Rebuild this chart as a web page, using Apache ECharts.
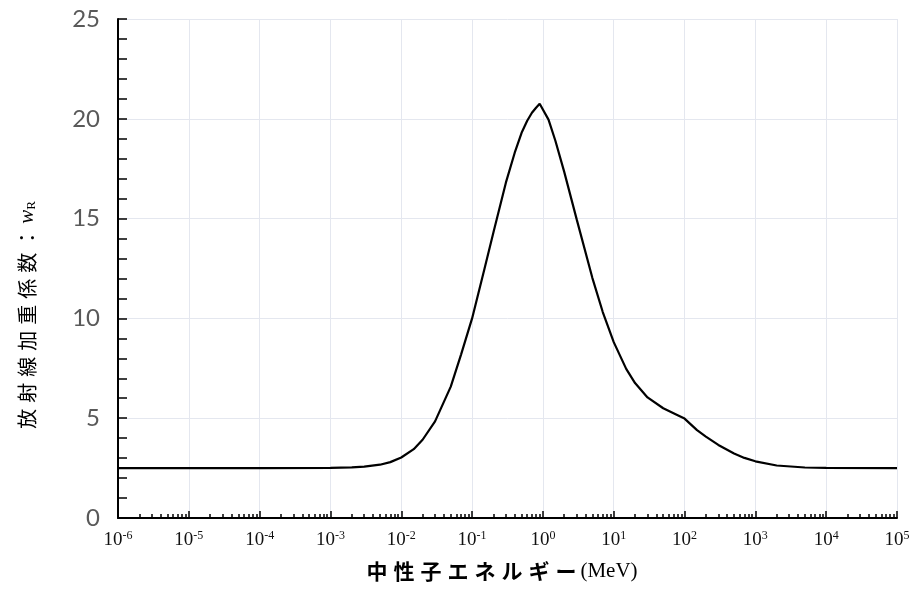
<!DOCTYPE html>
<html>
<head>
<meta charset="utf-8">
<script src="https://cdn.jsdelivr.net/npm/echarts@6/dist/echarts.min.js"></script>
<style>
html,body{margin:0;padding:0;background:#fff;}
#chart{width:912px;height:589px;}
</style>
</head>
<body>
<div id="chart"></div>
<script>
// Neutron energy (MeV) and radiation weighting factor
var energies = [1e-6, 1e-5, 1e-4, 1e-3, 2e-3, 3e-3, 5e-3, 7e-3, 1e-2, 1.5e-2, 2e-2, 3e-2, 5e-2, 7e-2,
  0.1, 0.15, 0.2, 0.3, 0.4, 0.5, 0.6, 0.7, 0.8, 0.9, 1.2, 1.5, 2, 3, 5, 7, 10, 15, 20, 30, 50, 80,
  100, 150, 200, 300, 500, 700, 1000, 2000, 5000, 1e4, 1e5];
var weights = [2.5, 2.5, 2.5, 2.51, 2.54, 2.57, 2.67, 2.80, 3.03, 3.45, 3.92, 4.84, 6.58, 8.2,
  10.0, 12.5, 14.3, 16.8, 18.3, 19.3, 19.9, 20.3, 20.55, 20.75, 19.96, 18.9, 17.34, 14.96, 12.02, 10.32, 8.81, 7.47, 6.76, 6.04, 5.50, 5.15,
  4.98, 4.40, 4.08, 3.66, 3.23, 3.01, 2.84, 2.63, 2.53, 2.51, 2.5];
var yTicks = [0, 5, 10, 15, 20, 25];
var xTitle = '中性子エネルギー';
var xUnit = '(MeV)';
var yTitle = '放射線加重係数';

var seriesData = energies.map(function (e, i) { return [e, weights[i]]; });

function spaced(text, style) {
  return text.split('').map(function (c) { return '{' + style + '|' + c + '}'; }).join('');
}

var chart = echarts.init(document.getElementById('chart'), null, {renderer: 'canvas'});
chart.setOption({
  animation: false,
  backgroundColor: '#ffffff',
  grid: {left: 118, right: 15, top: 19, bottom: 71, outerBoundsMode: 'none', containLabel: false},
  xAxis: {
    type: 'log',
    logBase: 10,
    min: 1e-6,
    max: 1e5,
    interval: 1,
    name: spaced(xTitle, 'j') + '{u|' + xUnit + '}',
    nameLocation: 'middle',
    nameGap: 43,
    nameTextStyle: {
      padding: [0, 14, 0, 0],
      rich: {
        j: {fontFamily: 'Noto Sans CJK JP', fontWeight: 'bold', fontSize: 21, color: '#000', padding: [0, 3, 0, 3]},
        u: {fontFamily: 'Liberation Serif', fontSize: 21, color: '#000', padding: [0, 0, 0, 1]}
      }
    },
    axisLine: {show: true, lineStyle: {color: '#000', width: 2}},
    axisTick: {show: true, inside: true, length: 7, lineStyle: {color: '#000', width: 1.5}},
    minorTick: {show: true, splitNumber: 9, length: 4, lineStyle: {color: '#000', width: 1.5}},
    splitLine: {show: true, lineStyle: {color: '#e4e7ef', width: 1}},
    axisLabel: {
      margin: 12,
      formatter: function (v) {
        var n = Math.round(Math.log10(v));
        return '{b|10}{s|' + n + '}';
      },
      rich: {
        b: {fontFamily: 'Liberation Serif', fontSize: 19, color: '#111'},
        s: {fontFamily: 'Liberation Serif', fontSize: 12, color: '#111', verticalAlign: 'top', padding: [0, 0, 8, 0]}
      }
    }
  },
  yAxis: {
    type: 'value',
    min: yTicks[0],
    max: yTicks[yTicks.length - 1],
    interval: 5,
    name: spaced(yTitle, 'j') + '{c|：}{w|w}{r|R}',
    nameLocation: 'middle',
    nameRotate: 90,
    nameGap: 80,
    nameTextStyle: {
      padding: [0, 96, 0, 0],
      rich: {
        j: {fontFamily: 'Noto Sans CJK JP', fontSize: 20, color: '#000', padding: [0, 3, 0, 3]},
        c: {fontFamily: 'Noto Sans CJK JP', fontSize: 20, color: '#000', padding: [0, 2, 0, 2]},
        w: {fontFamily: 'Liberation Serif', fontStyle: 'italic', fontSize: 21, color: '#000', padding: [0, 0, 0, 2]},
        r: {fontFamily: 'Liberation Serif', fontSize: 13, color: '#000', verticalAlign: 'bottom', padding: [8, 0, 0, 0]}
      }
    },
    axisLine: {show: true, lineStyle: {color: '#000', width: 2}},
    axisTick: {show: true, inside: true, length: 9, lineStyle: {color: '#000', width: 1.5}},
    minorTick: {show: true, splitNumber: 5, length: 9, lineStyle: {color: '#000', width: 1.5}},
    splitLine: {show: true, lineStyle: {color: '#e4e7ef', width: 1}},
    axisLabel: {
      margin: 18,
      fontFamily: 'Lato',
      fontSize: 24,
      color: '#595959'
    }
  },
  series: [{
    type: 'line',
    data: seriesData,
    showSymbol: false,
    smooth: false,
    lineStyle: {color: '#000', width: 2.2},
    clip: true
  }]
});
</script>
</body>
</html>
